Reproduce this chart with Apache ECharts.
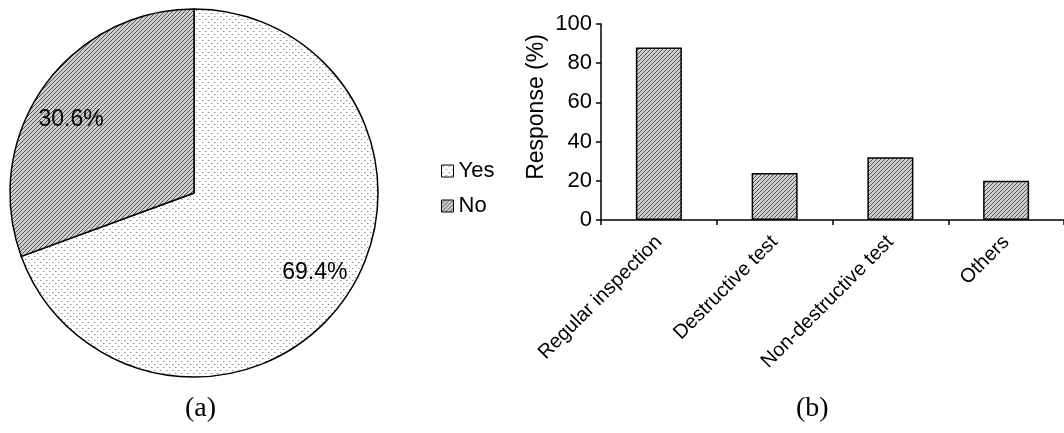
<!DOCTYPE html>
<html>
<head>
<meta charset="utf-8">
<script src="https://cdn.jsdelivr.net/npm/echarts@6/dist/echarts.min.js"></script>
<style>
  html, body { margin: 0; padding: 0; background: #fff; }
  #chart { width: 1064px; height: 433px; }
</style>
</head>
<body>
<div id="chart"></div>
<script>
// (a) share of respondents
const pieNames = ['Yes', 'No'];
const pieValues = [69.4, 30.6];

// (b) methods used, response in percent
const methodNames = ['Regular inspection', 'Destructive test', 'Non-destructive test', 'Others'];
const methodValues = [88, 24, 32, 20];

const yTicks = { min: 0, max: 100, interval: 20 };

// Fill patterns: light stipple and fine diagonal hatching
function dotPattern() {
  const c = document.createElement('canvas');
  c.width = 6; c.height = 6;
  const g = c.getContext('2d');
  g.fillStyle = '#ffffff';
  g.fillRect(0, 0, 6, 6);
  g.fillStyle = '#8f8f8f';
  g.fillRect(1, 1, 1, 1);
  g.fillRect(4, 4, 1, 1);
  g.fillStyle = '#cfcfcf';
  g.fillRect(2, 1, 1, 1);
  g.fillRect(5, 4, 1, 1);
  return c;
}
function hatchPattern() {
  const c = document.createElement('canvas');
  c.width = 4; c.height = 4;
  const g = c.getContext('2d');
  g.fillStyle = '#cfcfcf';
  g.fillRect(0, 0, 4, 4);
  g.fillStyle = '#555555';
  for (let i = 0; i < 4; i++) g.fillRect(i, 3 - i, 1, 1);
  return c;
}
const dots = { image: dotPattern(), repeat: 'repeat' };
const hatch = { image: hatchPattern(), repeat: 'repeat' };
const pieFills = [dots, hatch];
// small nudges of the percentage labels off the slice bisector
const pieLabelOffsets = [[2, -3], [-4, 10]];

const chart = echarts.init(document.getElementById('chart'), null, { renderer: 'canvas' });

const option = {
  animation: false,
  backgroundColor: '#ffffff',
  textStyle: { fontFamily: 'Liberation Sans, Arial, sans-serif', color: '#000' },
  legend: {
    data: pieNames,
    orient: 'vertical',
    left: 436,
    top: 154,
    icon: 'rect',
    itemWidth: 12,
    itemHeight: 12,
    itemGap: 11,
    itemStyle: { borderColor: '#000', borderWidth: 1 },
    textStyle: { fontSize: 22, color: '#000', lineHeight: 24 }
  },
  grid: { left: 601, top: 24, width: 468, height: 196, containLabel: false },
  xAxis: {
    type: 'category',
    data: methodNames,
    axisLine: { lineStyle: { color: '#000', width: 1.5 } },
    axisTick: { show: true, length: 5, lineStyle: { color: '#000', width: 1.5 } },
    axisLabel: { rotate: 45, fontSize: 20, color: '#000', margin: 19, interval: 0 }
  },
  yAxis: {
    type: 'value',
    min: yTicks.min,
    max: yTicks.max,
    interval: yTicks.interval,
    name: 'Response (%)',
    nameLocation: 'middle',
    nameGap: 53,
    nameTextStyle: { fontSize: 23, color: '#000', padding: [0, 0, 0, 30] },
    axisLine: { show: true, lineStyle: { color: '#000', width: 1.5 } },
    axisTick: { show: true, length: 5, lineStyle: { color: '#000', width: 1.5 } },
    axisLabel: { fontSize: 22, color: '#000', margin: 9 },
    splitLine: { show: false }
  },
  series: [
    {
      type: 'pie',
      center: [194, 193],
      radius: [0, 184],
      startAngle: 90,
      clockwise: true,
      silent: true,
      label: { show: false },
      labelLine: { show: false },
      itemStyle: { borderColor: '#000', borderWidth: 1.5 },
      data: pieNames.map((n, i) => ({
        name: n,
        value: pieValues[i],
        itemStyle: { color: pieFills[i] }
      }))
    },
    {
      // label ring: places percentages at roughly three quarters of the radius
      type: 'pie',
      center: [194, 193],
      radius: [100, 184],
      startAngle: 90,
      clockwise: true,
      silent: true,
      legendHoverLink: false,
      itemStyle: { color: 'rgba(0,0,0,0)', borderWidth: 0 },
      label: {
        show: true,
        position: 'inside',
        fontSize: 23,
        color: '#000',
        formatter: p => p.value.toFixed(1) + '%'
      },
      labelLine: { show: false },
      data: pieNames.map((n, i) => ({
        name: n + ' ',
        value: pieValues[i],
        label: { offset: pieLabelOffsets[i] }
      }))
    },
    {
      type: 'bar',
      data: methodValues,
      barWidth: 46,
      silent: true,
      itemStyle: { color: hatch, borderColor: '#000', borderWidth: 1.5 }
    }
  ],
  graphic: [
    { type: 'text', left: 185, top: 395, style: { text: '(a)', fontSize: 28, fontFamily: 'Liberation Serif, Times New Roman, serif', fill: '#000' } },
    { type: 'text', left: 796, top: 395, style: { text: '(b)', fontSize: 28, fontFamily: 'Liberation Serif, Times New Roman, serif', fill: '#000' } }
  ]
};

chart.setOption(option);
</script>
</body>
</html>
